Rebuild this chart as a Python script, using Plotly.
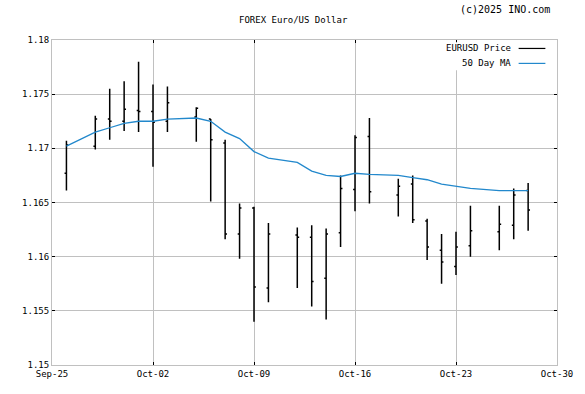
import plotly.graph_objects as go

dates = ["2025-09-26", "2025-09-28", "2025-09-29", "2025-09-30", "2025-10-01", "2025-10-02",
         "2025-10-03", "2025-10-05", "2025-10-06", "2025-10-07", "2025-10-08", "2025-10-09",
         "2025-10-10", "2025-10-12", "2025-10-13", "2025-10-14", "2025-10-15", "2025-10-16",
         "2025-10-17", "2025-10-19", "2025-10-20", "2025-10-21", "2025-10-22", "2025-10-23",
         "2025-10-24", "2025-10-26", "2025-10-27", "2025-10-28"]
open_ = [1.1677, 1.1702, 1.1727, 1.1725, 1.1735, 1.1734, 1.1725, 1.1729, 1.1727, 1.1705,
         1.1621, 1.1645, 1.1571, 1.1620, 1.1618, 1.1580, 1.1622, 1.1662, 1.1711, 1.1657,
         1.1667, 1.1633, 1.1606, 1.1591, 1.1610, 1.1623, 1.1629, 1.1661]
high = [1.1707, 1.1730, 1.1755, 1.1762, 1.1780, 1.1759, 1.1757, 1.1738, 1.1727, 1.1708,
        1.1649, 1.1646, 1.1631, 1.1627, 1.1629, 1.1626, 1.1675, 1.1712, 1.1728, 1.1672,
        1.1675, 1.1635, 1.1621, 1.1623, 1.1647, 1.1647, 1.1663, 1.1668]
low = [1.1661, 1.1699, 1.1708, 1.1716, 1.1715, 1.1683, 1.1715, 1.1706, 1.1651, 1.1616,
       1.1598, 1.1540, 1.1558, 1.1571, 1.1554, 1.1542, 1.1609, 1.1642, 1.1649, 1.1637,
       1.1631, 1.1597, 1.1575, 1.1583, 1.1600, 1.1606, 1.1616, 1.1624]
close = [1.1703, 1.1727, 1.1725, 1.1736, 1.1734, 1.1724, 1.1742, 1.1737, 1.1708, 1.1621,
         1.1645, 1.1572, 1.1621, 1.1618, 1.1577, 1.1621, 1.1663, 1.1710, 1.1660, 1.1665,
         1.1634, 1.1609, 1.1595, 1.1609, 1.1624, 1.1630, 1.1657, 1.1643]
ma50 = [1.1702, 1.1715, 1.1719, 1.1723, 1.1725, 1.1725, 1.1727, 1.1728, 1.1725, 1.1715,
        1.1709, 1.1697, 1.1691, 1.1687, 1.1679, 1.1675, 1.1674, 1.1677, 1.1676, 1.1675,
        1.1673, 1.1671, 1.1667, 1.1665, 1.1663, 1.1661, 1.1661, 1.1661]

x_ticks = ["2025-09-25", "2025-10-02", "2025-10-09", "2025-10-16", "2025-10-23", "2025-10-30"]
x_labels = ["Sep-25", "Oct-02", "Oct-09", "Oct-16", "Oct-23", "Oct-30"]
y_ticks = [1.15, 1.155, 1.16, 1.165, 1.17, 1.175, 1.18]
y_labels = ["1.15", "1.155", "1.16", "1.165", "1.17", "1.175", "1.18"]

FONT = "DejaVu Sans Mono"
GRID = "#c0c0c0"
MA_COLOR = "#2288cc"

fig = go.Figure()
fig.add_trace(go.Ohlc(
    x=dates, open=open_, high=high, low=low, close=close,
    increasing=dict(line=dict(color="black", width=1.5)),
    decreasing=dict(line=dict(color="black", width=1.5)),
    tickwidth=0.13, showlegend=False, hoverinfo="skip"))
fig.add_trace(go.Scatter(
    x=dates, y=ma50, mode="lines", line=dict(color=MA_COLOR, width=1.3),
    showlegend=False, hoverinfo="skip"))

fig.update_layout(
    width=585, height=394,
    margin=dict(l=52, r=20, t=40, b=29),
    paper_bgcolor="white", plot_bgcolor="white",
    font=dict(family=FONT, size=9, color="black"),
    showlegend=False,
    xaxis=dict(
        type="date", range=["2025-09-25", "2025-10-30"],
        tickvals=x_ticks, ticktext=x_labels,
        showgrid=True, gridcolor=GRID, gridwidth=1,
        showline=True, linecolor=GRID, linewidth=1, mirror="ticks",
        ticks="inside", ticklen=3, tickcolor="black",
        rangeslider=dict(visible=False), zeroline=False,
        tickfont=dict(family=FONT, size=9),
    ),
    yaxis=dict(
        range=[1.15, 1.18], tickvals=y_ticks, ticktext=y_labels,
        showgrid=True, gridcolor=GRID, gridwidth=1,
        showline=True, linecolor=GRID, linewidth=1, mirror="ticks",
        ticks="inside", ticklen=3, tickcolor="black", zeroline=False,
        tickfont=dict(family=FONT, size=9),
    ),
)

# legend box (drawn manually so the line samples sit right of the text)
fig.add_shape(type="rect", xref="paper", yref="paper", x0=0.762, x1=0.994, y0=0.907, y1=0.993,
              fillcolor="white", line=dict(width=0), layer="above")
fig.add_shape(type="line", xref="paper", yref="paper", x0=0.924, x1=0.977, y0=0.974, y1=0.974,
              line=dict(color="black", width=1.2), layer="above")
fig.add_shape(type="line", xref="paper", yref="paper", x0=0.924, x1=0.977, y0=0.928, y1=0.928,
              line=dict(color=MA_COLOR, width=1.2), layer="above")
fig.add_annotation(text="EURUSD Price", xref="paper", yref="paper", x=0.912, y=0.974,
                   xanchor="right", yanchor="middle", showarrow=False, font=dict(size=9))
fig.add_annotation(text="50 Day MA", xref="paper", yref="paper", x=0.912, y=0.928,
                   xanchor="right", yanchor="middle", showarrow=False, font=dict(size=9))

fig.add_annotation(text="FOREX Euro/US Dollar", xref="paper", yref="paper", x=0.478, y=1.061,
                   xanchor="center", yanchor="middle", showarrow=False, font=dict(size=9))
fig.add_annotation(text="(c)2025 INO.com", xref="paper", yref="paper", x=0.99, y=1.094,
                   xanchor="right", yanchor="middle", showarrow=False, font=dict(size=10))

fig.write_html("out.html", config={"displayModeBar": False})

# remove the default page margin so the chart sits at the window origin
with open("out.html", "r", encoding="utf-8") as f:
    html = f.read()
html = html.replace("<body>", '<body style="margin:0;padding:0;">', 1)
with open("out.html", "w", encoding="utf-8") as f:
    f.write(html)
